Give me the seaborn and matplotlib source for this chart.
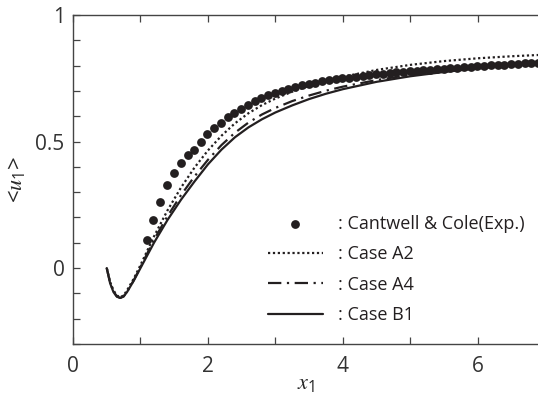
import pandas as pd
import seaborn as sns
import matplotlib.pyplot as plt

# experiment (Cantwell & Cole)
x_exp = [1.10, 1.19, 1.29, 1.39, 1.49, 1.60, 1.70, 1.79, 1.89, 1.99,
         2.09, 2.19, 2.29, 2.39, 2.49, 2.59, 2.69, 2.79, 2.89, 2.99,
         3.09, 3.19, 3.29, 3.39, 3.49, 3.59, 3.69, 3.79, 3.89, 3.99,
         4.09, 4.19, 4.29, 4.39, 4.49, 4.59, 4.69, 4.79, 4.89, 4.99,
         5.09, 5.19, 5.29, 5.39, 5.49, 5.59, 5.69, 5.79, 5.89, 5.99,
         6.09, 6.19, 6.29, 6.39, 6.49, 6.59, 6.69, 6.79, 6.89]
u_exp = [0.110, 0.190, 0.260, 0.328, 0.374, 0.414, 0.447, 0.466, 0.500, 0.530,
         0.552, 0.574, 0.595, 0.613, 0.628, 0.645, 0.660, 0.672, 0.683, 0.693,
         0.701, 0.709, 0.716, 0.722, 0.728, 0.733, 0.738, 0.742, 0.746, 0.750,
         0.753, 0.756, 0.759, 0.762, 0.765, 0.768, 0.771, 0.774, 0.776, 0.778,
         0.780, 0.782, 0.784, 0.786, 0.788, 0.790, 0.792, 0.794, 0.796, 0.798,
         0.800, 0.801, 0.803, 0.804, 0.806, 0.807, 0.809, 0.810, 0.812]

# simulations
x_sim = [0.5, 0.55, 0.6, 0.65, 0.7, 0.75, 0.8, 0.9, 1.0, 1.2, 1.4, 1.6, 1.8,
         2.0, 2.2, 2.4, 2.6, 2.8, 3.0, 3.25, 3.5, 3.75, 4.0, 4.5, 5.0, 5.5,
         6.0, 6.5, 6.9]
u_a2 = [0.0, -0.055, -0.088, -0.108, -0.115, -0.108, -0.088, -0.042, 0.012,
        0.125, 0.228, 0.318, 0.397, 0.465, 0.523, 0.572, 0.612, 0.644, 0.670,
        0.697, 0.720, 0.739, 0.756, 0.783, 0.803, 0.818, 0.829, 0.837, 0.842]
u_a4 = [0.0, -0.058, -0.092, -0.112, -0.118, -0.112, -0.094, -0.048, 0.004,
        0.112, 0.205, 0.288, 0.362, 0.428, 0.486, 0.535, 0.575, 0.607, 0.633,
        0.660, 0.682, 0.701, 0.717, 0.743, 0.764, 0.780, 0.794, 0.805, 0.814]
u_b1 = [0.0, -0.060, -0.095, -0.113, -0.118, -0.112, -0.095, -0.050, 0.000,
        0.100, 0.190, 0.270, 0.342, 0.410, 0.468, 0.517, 0.556, 0.588, 0.615,
        0.643, 0.668, 0.689, 0.707, 0.736, 0.758, 0.775, 0.789, 0.801, 0.810]

sns.set_style("ticks")
plt.rcParams["font.family"] = ["Open Sans", "DejaVu Sans"]
plt.rcParams["mathtext.fontset"] = "stix"

ink = "#231f20"
grey = "#444444"

fig = plt.figure(figsize=(5.38, 3.98), dpi=100)
ax = fig.add_axes([73 / 538, 54 / 398, 465 / 538, 329 / 398])

sns.scatterplot(x=x_exp, y=u_exp, ax=ax, color=ink, s=40, linewidth=0,
                label=": Cantwell & Cole(Exp.)", zorder=3)
sns.lineplot(x=x_sim, y=u_a2, ax=ax, color=ink, lw=1.6,
             linestyle=(0, (1, 1.2)), label=": Case A2")
sns.lineplot(x=x_sim, y=u_a4, ax=ax, color=ink, lw=1.6,
             linestyle=(0, (6, 2.5, 1, 2.5)), label=": Case A4")
sns.lineplot(x=x_sim, y=u_b1, ax=ax, color=ink, lw=1.6, label=": Case B1")

ax.set_xlim(0, 6.89)
ax.set_ylim(-0.3, 1.0)

xt = [0, 1, 2, 3, 4, 5, 6]
ax.set_xticks(xt)
ax.set_xticklabels(["0", "", "2", "", "4", "", "6"])
yt = [-0.3, -0.2, -0.1, 0.0, 0.1, 0.2, 0.3, 0.4, 0.5, 0.6, 0.7, 0.8, 0.9, 1.0]
ax.set_yticks(yt)
ax.set_yticklabels(["0" if v == 0 else "0.5" if v == 0.5 else "1" if v == 1.0 else ""
                    for v in yt])
ax.tick_params(direction="in", length=5, width=0.9, color=grey,
               labelsize=15, labelcolor="#333333", top=True)
ax.tick_params(axis="x", pad=9)
ax.tick_params(axis="y", pad=6)
for side in ["left", "bottom", "top"]:
    ax.spines[side].set_color(grey)
    ax.spines[side].set_linewidth(1.0)
ax.spines["right"].set_visible(False)

ax.set_xlabel(r"$x_\mathregular{1}$", fontsize=16, labelpad=-3)
ax.set_ylabel(r"<$u_\mathregular{1}$>", fontsize=16, labelpad=6)

leg = ax.legend(loc="upper left", bbox_to_anchor=(0.419, 0.392), frameon=False,
                fontsize=13, handlelength=3.05, handletextpad=0.85,
                labelspacing=0.68, borderaxespad=0, borderpad=0,
                markerscale=1.0)
for t in leg.get_texts():
    t.set_color(ink)

fig.savefig("out.png", dpi=100)
